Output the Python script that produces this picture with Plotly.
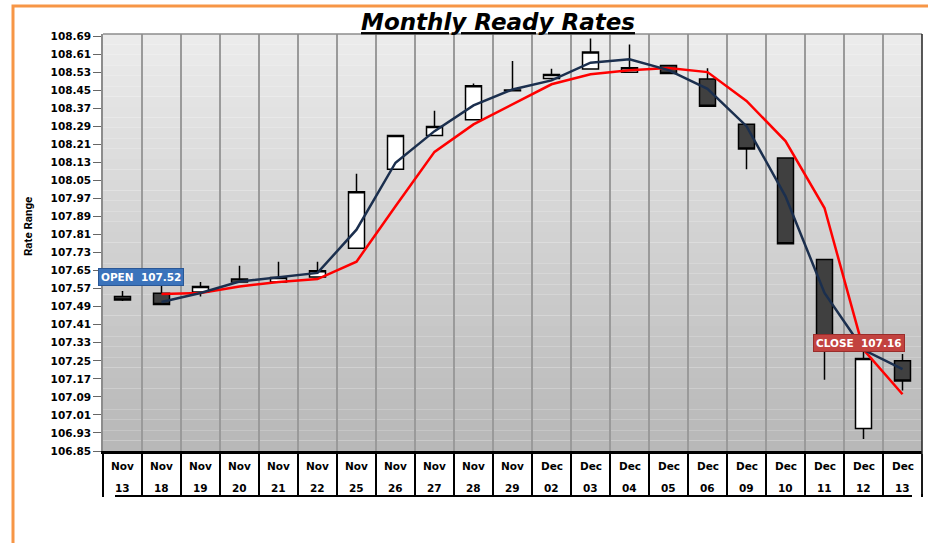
import plotly.graph_objects as go

# ---------------- data ----------------
months = ["Nov"] * 11 + ["Dec"] * 10
days = ["13", "18", "19", "20", "21", "22", "25", "26", "27", "28", "29",
        "02", "03", "04", "05", "06", "09", "10", "11", "12", "13"]
categories = [f"{m} {d}" for m, d in zip(months, days)]

open_ = [107.535, 107.55, 107.555, 107.60, 107.60, 107.622, 107.75, 108.10, 108.25, 108.32, 108.452,
         108.503, 108.545, 108.53, 108.56, 108.50, 108.30, 108.15, 107.70, 106.95, 107.25]
high = [107.56, 107.59, 107.60, 107.672, 107.69, 107.69, 108.08, 108.25, 108.36, 108.48, 108.58,
        108.546, 108.68, 108.653, 108.56, 108.548, 108.30, 108.15, 107.70, 107.29, 107.28]
low = [107.515, 107.50, 107.535, 107.598, 107.598, 107.62, 107.75, 108.10, 108.25, 108.32, 108.448,
       108.50, 108.543, 108.53, 108.525, 108.38, 108.10, 107.77, 107.166, 106.903, 107.118]
close = [107.52, 107.50, 107.58, 107.613, 107.62, 107.65, 108.00, 108.25, 108.29, 108.47, 108.448,
         108.52, 108.62, 108.55, 108.525, 108.38, 108.19, 107.77, 107.335, 107.26, 107.16]

ma_navy = [None, 107.511, 107.551, 107.602, 107.622, 107.640, 107.832, 108.129, 108.269, 108.383, 108.454,
           108.494, 108.573, 108.588, 108.54, 108.457, 108.291, 107.98, 107.551, 107.299, 107.213]
ma_red = [None, 107.546, 107.551, 107.58, 107.60, 107.613, 107.69, 107.936, 108.177, 108.299, 108.388,
          108.477, 108.521, 108.539, 108.549, 108.531, 108.403, 108.225, 107.928, 107.30, 107.102]

y_ticks = [round(106.85 + 0.08 * k, 2) for k in range(24)]
y_tick_labels = [f"{v:.2f}" for v in y_ticks]

open_label_value = 107.52
close_label_value = 107.16

# ---------------- figure ----------------
fig = go.Figure()

fig.add_trace(go.Candlestick(
    x=categories, open=open_, high=high, low=low, close=close,
    increasing=dict(line=dict(color="#000000", width=1.5), fillcolor="#ffffff"),
    decreasing=dict(line=dict(color="#000000", width=1.5), fillcolor="#404040"),
    whiskerwidth=0, showlegend=False, hoverinfo="skip",
))
fig.add_trace(go.Scatter(x=categories, y=ma_red, mode="lines",
                         line=dict(color="#ff0000", width=2.5), showlegend=False, hoverinfo="skip"))
fig.add_trace(go.Scatter(x=categories, y=ma_navy, mode="lines",
                         line=dict(color="#1b2f4e", width=2.5), showlegend=False, hoverinfo="skip"))

# plot geometry in screen pixels
FIG_W, FIG_H = 928, 543
L, R, T, B = 103, 922, 34, 451
W, H = R - L, B - T


def px(x):
    return (x - L) / W


def py(y):
    return (B - y) / H


shapes = []
# gradient background of the plot area
n = 40
top_c, bot_c = (236, 236, 236), (183, 183, 183)
for k in range(n):
    f = (k + 0.5) / n
    c = tuple(round(top_c[j] + (bot_c[j] - top_c[j]) * f) for j in range(3))
    shapes.append(dict(type="rect", xref="paper", yref="paper", layer="below",
                       x0=0, x1=1, y0=1 - (k + 1) / n, y1=1 - k / n,
                       fillcolor=f"rgb{c}", line=dict(width=0)))
# top border of plot
shapes.append(dict(type="line", xref="paper", yref="paper", x0=0, x1=1, y0=1, y1=1,
                   line=dict(color="#8c8c8c", width=1.5)))
# right border of plot
shapes.append(dict(type="line", xref="paper", yref="paper", x0=1, x1=1, y0=py(494), y1=1,
                   line=dict(color="#222222", width=1.5)))
# underline below the x labels
shapes.append(dict(type="line", xref="paper", yref="paper", x0=px(115), x1=px(912),
                   y0=py(496), y1=py(496), line=dict(color="#000000", width=2)))
# outer orange frame
shapes.append(dict(type="rect", xref="paper", yref="paper", x0=px(13), x1=px(960),
                   y0=py(600), y1=py(6), line=dict(color="#f79646", width=3),
                   fillcolor="rgba(0,0,0,0)"))

annotations = []
lab_font = dict(family="DejaVu Sans", size=10.5, color="#000000", weight="bold")
for c, m, d in zip(categories, months, days):
    annotations.append(dict(x=c, y=py(466), xref="x", yref="paper", text=m, showarrow=False,
                            font=lab_font, xanchor="center", yanchor="middle"))
    annotations.append(dict(x=c, y=py(488), xref="x", yref="paper", text=d, showarrow=False,
                            font=lab_font, xanchor="center", yanchor="middle"))

annotations.append(dict(x=px(28), y=py(227), xref="paper", yref="paper", text="Rate Range",
                        textangle=-90, showarrow=False, xanchor="center", yanchor="middle",
                        font=dict(family="Liberation Sans Narrow, Roboto", size=11.5,
                                  color="#000000", weight="bold")))

annotations.append(dict(x=px(140.5), y=py(277), xref="paper", yref="paper",
                        text=f"OPEN&nbsp; {open_label_value:.2f}", showarrow=False,
                        xanchor="center", yanchor="middle",
                        font=dict(family="DejaVu Sans", size=10.5, color="#ffffff", weight="bold"),
                        bgcolor="#3b73bb", bordercolor="#2a5796", borderwidth=1, borderpad=2))
annotations.append(dict(x=px(859), y=py(343), xref="paper", yref="paper",
                        text=f"CLOSE&nbsp; {close_label_value:.2f}", showarrow=False,
                        xanchor="center", yanchor="middle",
                        font=dict(family="DejaVu Sans", size=10.5, color="#ffffff", weight="bold"),
                        bgcolor="#c2423f", bordercolor="#9a2d2b", borderwidth=1, borderpad=2))

fig.update_layout(
    width=FIG_W, height=FIG_H,
    margin=dict(l=L, r=FIG_W - R, t=T, b=FIG_H - B),
    paper_bgcolor="#ffffff",
    plot_bgcolor="rgba(0,0,0,0)",
    boxgap=0.59, boxgroupgap=0,
    title=dict(text="<u>Monthly Ready Rates</u>", x=px(498), xref="paper", xanchor="center",
               y=1 - 22 / FIG_H, yref="container", yanchor="middle",
               font=dict(family="DejaVu Sans", size=23, color="#000000", weight="bold", style="italic")),
    xaxis=dict(type="category", rangeslider=dict(visible=False), tickson="boundaries",
               showgrid=True, gridcolor="#9a9a9a", gridwidth=2,
               showline=True, linecolor="#000000", linewidth=2.5,
               ticks="outside", ticklen=43, tickwidth=2, tickcolor="#000000",
               showticklabels=False, range=[-0.5, len(categories) - 0.5], fixedrange=True),
    yaxis=dict(range=[106.85, 108.70], tickvals=y_ticks, ticktext=y_tick_labels,
               showgrid=False, zeroline=False, showline=True, linecolor="#8c8c8c", linewidth=1.5,
               ticks="outside", ticklen=8, tickcolor="#666666",
               tickfont=dict(family="DejaVu Sans", size=10.5, color="#000000", weight="bold"),
               fixedrange=True),
    shapes=shapes,
    annotations=annotations,
)

fig.write_html("out.html", config={"displayModeBar": False},
               post_script="document.body.style.margin='0';")
